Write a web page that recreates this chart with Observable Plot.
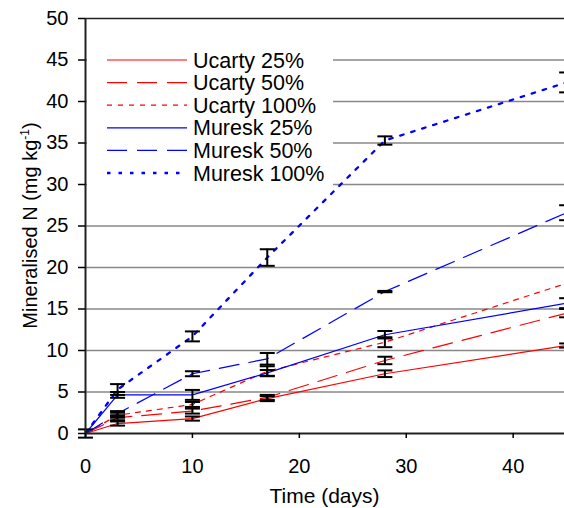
<!DOCTYPE html>
<html><head><meta charset="utf-8">
<script src="https://cdn.jsdelivr.net/npm/d3@7"></script>
<script src="https://cdn.jsdelivr.net/npm/@observablehq/plot@0.6"></script>
<style>
html,body{margin:0;padding:0;background:#fff;overflow:hidden;}
#chart{width:564px;height:508px;}
#chart svg{overflow:hidden;display:block;font-family:"Liberation Sans",Arial,sans-serif;}
</style></head><body><div id="chart"></div>
<script>
// ---- data ----
const days = [0, 3, 10, 17, 28, 45];
const seriesNames = ["Ucarty 25%", "Ucarty 50%", "Ucarty 100%", "Muresk 25%", "Muresk 50%", "Muresk 100%"];
const ucarty25     = [0, 1.2, 1.8, 4.2, 7.2, 10.6];
const ucarty25Err  = [0, 0.25, 0.25, 0.3, 0.4, 0.25];
const ucarty50     = [0, 1.9, 2.7, 4.35, 8.8, 14.5];
const ucarty50Err  = [0, 0.3, 0.3, 0.3, 0.45, 0.5];
const ucarty100    = [0, 2.2, 3.5, 7.5, 11.0, 18.1];
const ucarty100Err = [0, 0.3, 0.3, 0.6, 0.6, 0];
const muresk25     = [0, 4.65, 4.65, 7.3, 11.9, 15.7];
const muresk25Err  = [0, 0.35, 0.6, 0.35, 0.45, 0.6];
const muresk50     = [0, 2.4, 7.2, 9.0, 17.1, 26.6];
const muresk50Err  = [0, 0.3, 0.3, 0.7, 0.08, 0.9];
const muresk100    = [0, 5.3, 11.7, 21.2, 35.3, 42.3];
const muresk100Err = [0.5, 0.65, 0.6, 1.0, 0.5, 1.2];
const xTicks = [0, 10, 20, 30, 40];
const yTicks = [0, 5, 10, 15, 20, 25, 30, 35, 40, 45, 50];
const xVisibleMax = 44.8;

// ---- styles ----
const styles = [
  {color: "#ff0000", dash: null,   width: 1.2},
  {color: "#ff0000", dash: "20,10", width: 1.2},
  {color: "#ff0000", dash: "5,6",  width: 1.2},
  {color: "#0000ff", dash: null,   width: 1.2},
  {color: "#0000ff", dash: "20,10", width: 1.2},
  {color: "#0000ff", dash: "3.5,8",  width: 2.3}
];
const values = [ucarty25, ucarty50, ucarty100, muresk25, muresk50, muresk100];
const errors = [ucarty25Err, ucarty50Err, ucarty100Err, muresk25Err, muresk50Err, muresk100Err];

const series = seriesNames.map((name, k) => ({
  name, ...styles[k],
  rows: days.map((d, i) => ({day: d, value: values[k][i], err: errors[k][i], series: name}))
}));
const allRows = series.flatMap(s => s.rows).filter(r => r.err > 0);

const capSymbol = {
  draw(ctx, size) {
    const r = Math.sqrt(size / Math.PI);
    ctx.moveTo(-r, 0); ctx.lineTo(r, 0);
  }
};

const plot = Plot.plot({
  width: 564, height: 508,
  marginLeft: 85, marginRight: 0, marginTop: 18, marginBottom: 75,
  style: {fontFamily: '"Liberation Sans", Arial, sans-serif', fontSize: "20px", color: "#000", background: "#fff"},
  x: {domain: [0, xVisibleMax]},
  y: {domain: [yTicks[0], yTicks[yTicks.length - 1]]},
  marks: [
    Plot.ruleY(yTicks.slice(1, -1), {stroke: "#888", strokeWidth: 1.5}),
    Plot.ruleY([yTicks[yTicks.length - 1]], {stroke: "#222", strokeWidth: 1.5}),
    ...series.map(s => Plot.line(s.rows, {x: "day", y: "value", stroke: s.color, strokeWidth: s.width, strokeDasharray: s.dash})),
    Plot.ruleX(allRows, {x: "day", y1: d => d.value - d.err, y2: d => d.value + d.err, stroke: "#000", strokeWidth: 2}),
    Plot.dot(allRows, {x: "day", y: d => d.value + d.err, symbol: capSymbol, r: 7.5, fill: "none", stroke: "#000", strokeWidth: 2}),
    Plot.dot(allRows, {x: "day", y: d => d.value - d.err, symbol: capSymbol, r: 7.5, fill: "none", stroke: "#000", strokeWidth: 2}),
    Plot.ruleX([xTicks[0]], {stroke: "#222", strokeWidth: 2}),
    Plot.ruleY([yTicks[0]], {stroke: "#222", strokeWidth: 2}),
    Plot.axisX({ticks: xTicks, tickSize: 5, tickPadding: 20, label: null, strokeWidth: 1.5}),
    Plot.axisY({ticks: yTicks, tickSize: 7, tickPadding: 10, label: null, strokeWidth: 1.5})
  ]
});
document.getElementById("chart").appendChild(plot);

const svg = d3.select(plot);
// axis titles
svg.append("text")
  .attr("x", 85 + (564 - 85) / 2).attr("y", 503)
  .attr("text-anchor", "middle").attr("font-size", 21).attr("fill", "#000")
  .text("Time (days)");
const yt = svg.append("text")
  .attr("transform", `translate(37,${18 + (433 - 18) / 2}) rotate(-90)`)
  .attr("text-anchor", "middle").attr("font-size", 20).attr("fill", "#000");
yt.append("tspan").text("Mineralised N (mg kg");
yt.append("tspan").attr("font-size", 12).attr("dy", -8).text("-1");
yt.append("tspan").attr("dy", 8).text(")");

// legend
const lg = svg.append("g");
lg.append("rect").attr("x", 87).attr("y", 38).attr("width", 246).attr("height", 150).attr("fill", "#fff");
series.forEach((s, i) => {
  const y = 60 + i * 22.6;
  lg.append("line").attr("x1", 107).attr("x2", 187).attr("y1", y).attr("y2", y)
    .attr("stroke", s.color).attr("stroke-width", s.width).attr("stroke-dasharray", s.dash);
  lg.append("text").attr("x", 193).attr("y", y + 7.5).attr("text-anchor", "start")
    .attr("font-size", 21.5).attr("fill", "#000").text(s.name);
});
</script></body></html>
